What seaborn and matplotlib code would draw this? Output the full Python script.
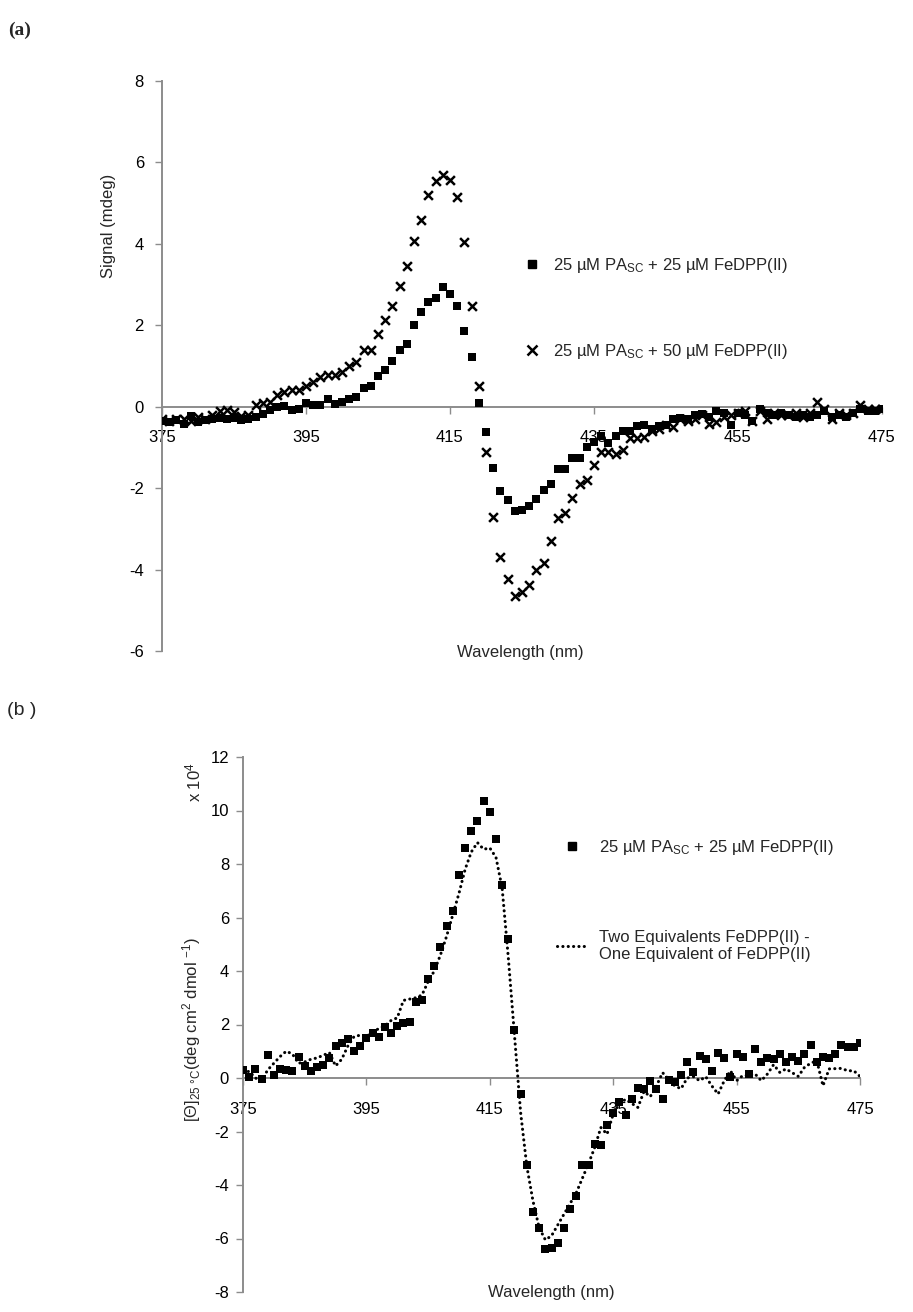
import matplotlib
matplotlib.use("Agg")
import matplotlib.pyplot as plt
import seaborn as sns
import pandas as pd
from matplotlib.lines import Line2D

# ---------------- data ----------------
wavelength = list(range(375, 476))

# panel (a): CD signal (mdeg)
signal_25 = [
    -0.35, -0.38, -0.32, -0.42, -0.22, -0.38, -0.33, -0.30, -0.28, -0.30,
    -0.27, -0.33, -0.30, -0.25, -0.19, -0.08, 0.00, 0.02, -0.08, -0.05,
    0.08, 0.05, 0.04, 0.18, 0.06, 0.11, 0.20, 0.25, 0.46, 0.50,
    0.75, 0.90, 1.12, 1.40, 1.55, 2.00, 2.33, 2.56, 2.66, 2.93,
    2.78, 2.47, 1.87, 1.21, 0.10, -0.62, -1.50, -2.08, -2.30, -2.56,
    -2.53, -2.45, -2.27, -2.05, -1.90, -1.52, -1.52, -1.25, -1.27, -1.00,
    -0.86, -0.72, -0.90, -0.72, -0.60, -0.60, -0.48, -0.45, -0.55, -0.48,
    -0.45, -0.30, -0.28, -0.30, -0.20, -0.18, -0.25, -0.10, -0.15, -0.45,
    -0.15, -0.20, -0.35, -0.05, -0.15, -0.20, -0.15, -0.20, -0.25, -0.20,
    -0.25, -0.20, -0.10, -0.25, -0.20, -0.25, -0.15, -0.05, -0.10, -0.10,
    -0.05]
signal_50 = [
    -0.30, -0.35, -0.30, -0.30, -0.35, -0.25, -0.30, -0.20, -0.10, -0.08,
    -0.12, -0.22, -0.20, 0.05, 0.10, 0.12, 0.28, 0.36, 0.40, 0.42,
    0.50, 0.60, 0.72, 0.78, 0.78, 0.85, 1.00, 1.10, 1.40, 1.40,
    1.78, 2.13, 2.48, 2.97, 3.46, 4.06, 4.59, 5.20, 5.55, 5.69,
    5.58, 5.14, 4.04, 2.48, 0.50, -1.12, -2.70, -3.70, -4.24, -4.65,
    -4.55, -4.38, -4.00, -3.83, -3.30, -2.74, -2.60, -2.23, -1.90, -1.80,
    -1.44, -1.10, -1.12, -1.15, -1.06, -0.76, -0.76, -0.75, -0.60, -0.55,
    -0.45, -0.50, -0.30, -0.35, -0.30, -0.20, -0.42, -0.38, -0.25, -0.20,
    -0.15, -0.10, -0.35, -0.10, -0.30, -0.15, -0.20, -0.20, -0.15, -0.25,
    -0.15, 0.12, -0.05, -0.30, -0.15, -0.20, -0.15, 0.05, -0.05, -0.05,
    -0.05]

# panel (b): molar ellipticity (x 10^4)
theta_25 = [
    0.30, 0.05, 0.35, -0.05, 0.85, 0.10, 0.35, 0.30, 0.25, 0.80,
    0.45, 0.25, 0.40, 0.50, 0.75, 1.20, 1.30, 1.45, 1.00, 1.20,
    1.50, 1.70, 1.55, 1.90, 1.70, 1.95, 2.05, 2.10, 2.85, 2.90,
    3.70, 4.20, 4.90, 5.70, 6.25, 7.60, 8.60, 9.25, 9.60, 10.35,
    9.95, 8.95, 7.20, 5.20, 1.80, -0.60, -3.25, -5.00, -5.60, -6.40,
    -6.37, -6.17, -5.62, -4.90, -4.40, -3.25, -3.25, -2.47, -2.50, -1.76,
    -1.31, -0.89, -1.38, -0.79, -0.39, -0.41, -0.12, -0.41, -0.78, -0.06,
    -0.14, 0.12, 0.60, 0.24, 0.84, 0.70, 0.25, 0.95, 0.75, 0.05,
    0.90, 0.80, 0.15, 1.10, 0.60, 0.75, 0.70, 0.90, 0.60, 0.80,
    0.65, 0.90, 1.25, 0.60, 0.80, 0.75, 0.90, 1.25, 1.15, 1.15,
    1.30]
theta_diff = [
    0.20, 0.25, 0.00, -0.10, 0.30, 0.55, 0.80, 1.00, 0.90, 0.55,
    0.60, 0.70, 0.75, 0.85, 0.95, 0.45, 0.70, 1.20, 1.55, 1.60,
    1.55, 1.70, 1.85, 1.95, 2.15, 2.25, 2.90, 2.95, 3.00, 3.10,
    3.60, 4.00, 4.60, 5.30, 6.10, 6.90, 7.80, 8.45, 8.80, 8.55,
    8.60, 8.25, 7.10, 4.50, 1.60, -1.30, -3.30, -4.60, -5.60, -6.05,
    -5.90, -5.50, -5.10, -4.70, -4.30, -3.75, -3.20, -2.60, -1.85, -2.10,
    -1.35, -0.95, -0.80, -0.95, -1.10, -0.50, -0.70, -0.30, 0.20, -0.05,
    -0.30, -0.40, 0.00, 0.05, -0.10, 0.05, -0.30, -0.60, -0.10, 0.27,
    -0.10, 0.09, 0.10, 0.15, -0.10, 0.15, 0.50, 0.21, 0.34, 0.20,
    0.06, 0.40, 0.55, 0.65, -0.29, 0.34, 0.35, 0.36, 0.27, 0.27,
    0.06]

x_ticks = [375, 395, 415, 435, 455, 475]
y_ticks_a = [-6, -4, -2, 0, 2, 4, 6, 8]
y_ticks_b = [-8, -6, -4, -2, 0, 2, 4, 6, 8, 10, 12]

label_25 = r"25 µM PA$_{\mathrm{SC}}$ + 25 µM FeDPP(II)"
label_50 = r"25 µM PA$_{\mathrm{SC}}$ + 50 µM FeDPP(II)"
label_diff = "Two Equivalents FeDPP(II) -\nOne Equivalent of FeDPP(II)"

# ---------------- style ----------------
sns.set_theme(style="white")
plt.rcParams["font.family"] = ["Liberation Sans", "DejaVu Sans"]
plt.rcParams["mathtext.fontset"] = "custom"
plt.rcParams["mathtext.rm"] = "Liberation Sans"
plt.rcParams["mathtext.it"] = "Liberation Sans:italic"
plt.rcParams["mathtext.bf"] = "Liberation Sans:bold"
plt.rcParams["axes.unicode_minus"] = False

GRAY = "#8c8c8c"
FS = 12
W, H = 913, 1312
DOTS = (0, (0.05, 1.7))


def fx(px):
    return px / W


def fy(py):
    return 1 - py / H


fig = plt.figure(figsize=(W / 100, H / 100), dpi=100)
ax1 = fig.add_axes([fx(162), fy(651), (882 - 162) / W, (651 - 81) / H])
ax2 = fig.add_axes([fx(243), fy(1292), (860 - 243) / W, (1292 - 757) / H])

df_a = pd.DataFrame({"wl": wavelength, "s25": signal_25, "s50": signal_50})
df_b = pd.DataFrame({"wl": wavelength, "t25": theta_25, "tdiff": theta_diff})

SQ = 34
# panel (a)
sns.scatterplot(data=df_a, x="wl", y="s25", marker="s", s=SQ, color="black",
                linewidth=0, ax=ax1, legend=False, zorder=3)
sns.scatterplot(data=df_a, x="wl", y="s50", marker="x", s=40, color="black",
                linewidth=1.8, ax=ax1, legend=False, zorder=3)
# panel (b)
sns.scatterplot(data=df_b, x="wl", y="t25", marker="s", s=SQ, color="black",
                linewidth=0, ax=ax2, legend=False, zorder=3)
sns.lineplot(data=df_b, x="wl", y="tdiff", color="black", linewidth=2.2,
             linestyle=DOTS, dash_capstyle="round", estimator=None,
             ax=ax2, legend=False, zorder=4)


def style(ax, ylim, yticks, ypad):
    ax.set_xlim(375, 475)
    ax.set_ylim(*ylim)
    ax.set_xticks(x_ticks)
    ax.set_yticks(yticks)
    ax.set_xlabel("")
    ax.set_ylabel("")
    for s in ["top", "right"]:
        ax.spines[s].set_visible(False)
    ax.spines["bottom"].set_position(("data", 0))
    for s in ["left", "bottom"]:
        ax.spines[s].set_color(GRAY)
        ax.spines[s].set_linewidth(1.4)
        ax.spines[s].set_zorder(1)
    ax.tick_params(axis="x", direction="out", length=5, width=1, color=GRAY,
                   pad=12, labelsize=FS, labelcolor="black", bottom=True)
    ax.tick_params(axis="y", direction="out", length=5, width=1, color=GRAY,
                   pad=ypad, labelsize=FS, labelcolor="black", left=True)
    ax.grid(False)
    ax.patch.set_alpha(0)


style(ax1, (-6, 8), y_ticks_a, 8)
style(ax2, (-8, 12), y_ticks_b, 5)

# legends
h_sq = Line2D([], [], marker="s", ls="none", color="black", markersize=5.8)
h_x = Line2D([], [], marker="x", ls="none", color="black", markersize=6.5,
             markeredgewidth=1.8)
h_dot = Line2D([], [], color="black", lw=2.2, ls=DOTS, dash_capstyle="round")

ax1.legend([h_sq, h_x], [label_25, label_50], loc="center left",
           bbox_to_anchor=(fx(524), fy(308.5)), bbox_transform=fig.transFigure,
           frameon=False, fontsize=FS, handlelength=1.0, handletextpad=0.74,
           labelspacing=4.0, borderpad=0, borderaxespad=0)
ax2.legend([h_sq, h_dot], [label_25, label_diff], loc="center left",
           bbox_to_anchor=(fx(557), fy(900)), bbox_transform=fig.transFigure,
           frameon=False, fontsize=FS, handlelength=1.75, handletextpad=0.75,
           labelspacing=4.4, borderpad=0, borderaxespad=0)

# texts
fig.text(fx(8), fy(30), "(a)", fontsize=14, fontweight="bold",
         family="Liberation Serif", ha="left", va="center")
fig.text(fx(7), fy(711), "(b )", fontsize=14, ha="left", va="center")
fig.text(fx(520), fy(652), "Wavelength (nm)", fontsize=FS, ha="center", va="center")
fig.text(fx(551), fy(1293), "Wavelength (nm)", fontsize=FS, ha="center", va="center")
fig.text(fx(108), fy(226), "Signal (mdeg)", fontsize=FS, rotation=90,
         ha="center", va="center")
fig.text(fx(192), fy(1030), r"[Θ]$_{25\ °\mathrm{C}}$(deg cm$^2$ dmol $^{-1}$)",
         fontsize=FS, rotation=90, ha="center", va="center")
fig.text(fx(193), fy(782), r"x 10$^4$", fontsize=FS, rotation=90,
         ha="center", va="center")

fig.savefig("out.png", dpi=100)
